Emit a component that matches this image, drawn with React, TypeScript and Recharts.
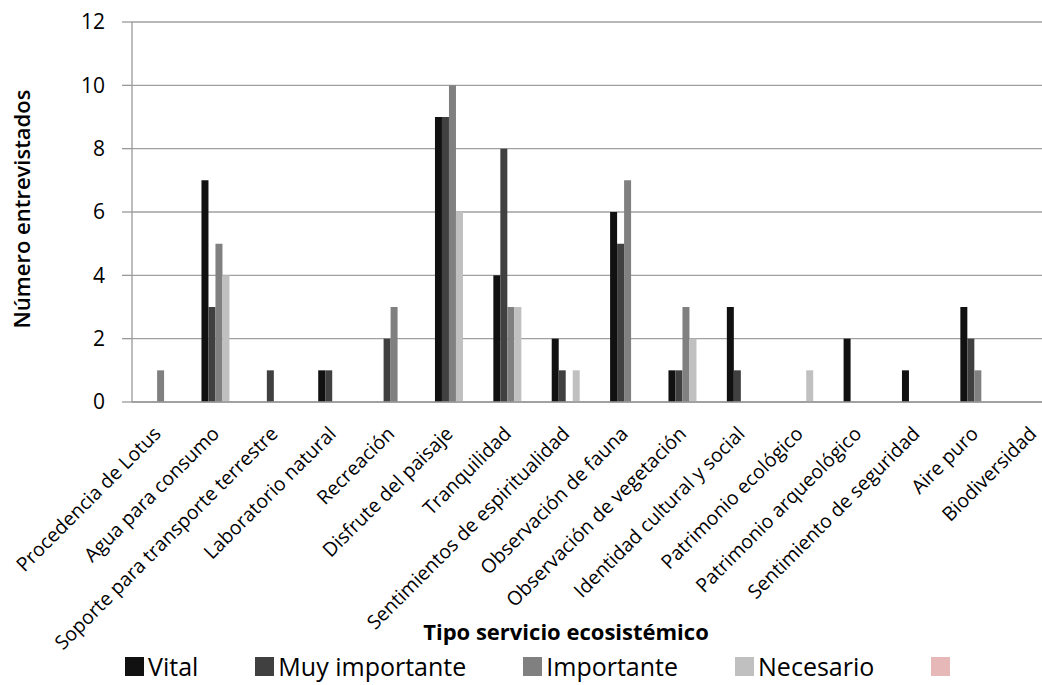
import React from "react";
import { BarChart, Bar, XAxis, YAxis, CartesianGrid, Legend } from "recharts";

const categories = [
  "Procedencia de Lotus",
  "Agua para consumo",
  "Soporte para transporte terrestre",
  "Laboratorio natural",
  "Recreación",
  "Disfrute del paisaje",
  "Tranquilidad",
  "Sentimientos de espiritualidad",
  "Observación de fauna",
  "Observación de vegetación",
  "Identidad cultural y social",
  "Patrimonio ecológico",
  "Patrimonio arqueológico",
  "Sentimiento de seguridad",
  "Aire puro",
  "Biodiversidad",
];

const vital = [0, 7, 0, 1, 0, 9, 4, 2, 6, 1, 3, 0, 2, 1, 3, 0];
const muyImportante = [0, 3, 1, 1, 2, 9, 8, 1, 5, 1, 1, 0, 0, 0, 2, 0];
const importante = [1, 5, 0, 0, 3, 10, 3, 0, 7, 3, 0, 0, 0, 0, 1, 0];
const necesario = [0, 4, 0, 0, 0, 6, 3, 1, 0, 2, 0, 1, 0, 0, 0, 0];
const extra = [0, 0, 0, 0, 0, 0, 0, 0, 0, 0, 0, 0, 0, 0, 0, 0];

const yTicks = [0, 2, 4, 6, 8, 10, 12];

const series = [
  { key: "vital", name: "Vital", color: "#111111", values: vital },
  { key: "muy", name: "Muy importante", color: "#404040", values: muyImportante },
  { key: "imp", name: "Importante", color: "#808080", values: importante },
  { key: "nec", name: "Necesario", color: "#c0c0c0", values: necesario },
  { key: "extra", name: "", color: "#e6b9b8", values: extra },
];

const data = categories.map((c, i) => {
  const row: any = { name: c };
  series.forEach((s) => {
    row[s.key] = s.values[i];
  });
  return row;
});

const FONT = "'Open Sans', sans-serif";

const XTick = (props: any) => {
  const { x, y, payload } = props;
  return (
    <g transform={`translate(${x + 1},${y + 33})`}>
      <text
        x={0}
        y={0}
        textAnchor="end"
        transform="rotate(-45)"
        fontSize={19.5}
        fontFamily={FONT}
        fill="#000"
      >
        {payload.value}
      </text>
    </g>
  );
};

const LegendContent = () => (
  <div
    style={{
      height: 40,
      boxSizing: "border-box",
      paddingTop: 2,
      paddingLeft: 125,
      display: "flex",
      gap: 57,
      fontFamily: FONT,
      fontSize: 25,
      lineHeight: "34px",
      color: "#000",
      whiteSpace: "nowrap",
    }}
  >
    {series.map((s) => (
      <div key={s.key} style={{ display: "flex", alignItems: "center" }}>
        <span
          style={{
            display: "inline-block",
            width: 19,
            height: 19,
            background: s.color,
            marginRight: 4,
          }}
        />
        <span>{s.name}</span>
      </div>
    ))}
  </div>
);

export default function App() {
  return (
    <div
      style={{
        position: "absolute",
        left: 0,
        top: 0,
        width: 1042,
        height: 685,
        overflow: "hidden",
        background: "#fff",
      }}
    >
      <BarChart
        width={1070}
        height={685}
        data={data}
        margin={{ top: 22, right: 4, left: 0, bottom: 0 }}
        barCategoryGap="19%"
        barGap={0}
      >
        <CartesianGrid vertical={false} stroke="#a0a0a0" strokeWidth={1.3} />
        <XAxis
          dataKey="name"
          interval={0}
          height={243}
          tickLine={false}
          tickSize={0}
          tickMargin={0}
          axisLine={{ stroke: "#9a9a9a", strokeWidth: 1.3 }}
          tick={<XTick />}
          label={{
            content: () => (
              <text
                x={566}
                y={640}
                textAnchor="middle"
                fontSize={22}
                fontWeight="bold"
                fontFamily={FONT}
                fill="#000"
              >
                Tipo servicio ecosistémico
              </text>
            ),
          }}
        />
        <YAxis
          width={132}
          domain={[0, 12]}
          ticks={yTicks}
          interval={0}
          tickSize={10}
          tickMargin={17}
          tickLine={{ stroke: "#9a9a9a", strokeWidth: 1.3 }}
          axisLine={{ stroke: "#9a9a9a", strokeWidth: 1.3 }}
          tick={{ fontSize: 21, fontFamily: FONT, fill: "#000" }}
          label={{
            content: () => (
              <text
                x={0}
                y={0}
                transform="translate(30,209) rotate(-90)"
                textAnchor="middle"
                fontSize={22}
                fontWeight={600}
                fontFamily={FONT}
                fill="#000"
              >
                Número entrevistados
              </text>
            ),
          }}
        />
        <Legend verticalAlign="bottom" content={<LegendContent />} />
        {series.map((s) => (
          <Bar
            key={s.key}
            dataKey={s.key}
            name={s.name}
            fill={s.color}
            isAnimationActive={false}
          />
        ))}
      </BarChart>
    </div>
  );
}
